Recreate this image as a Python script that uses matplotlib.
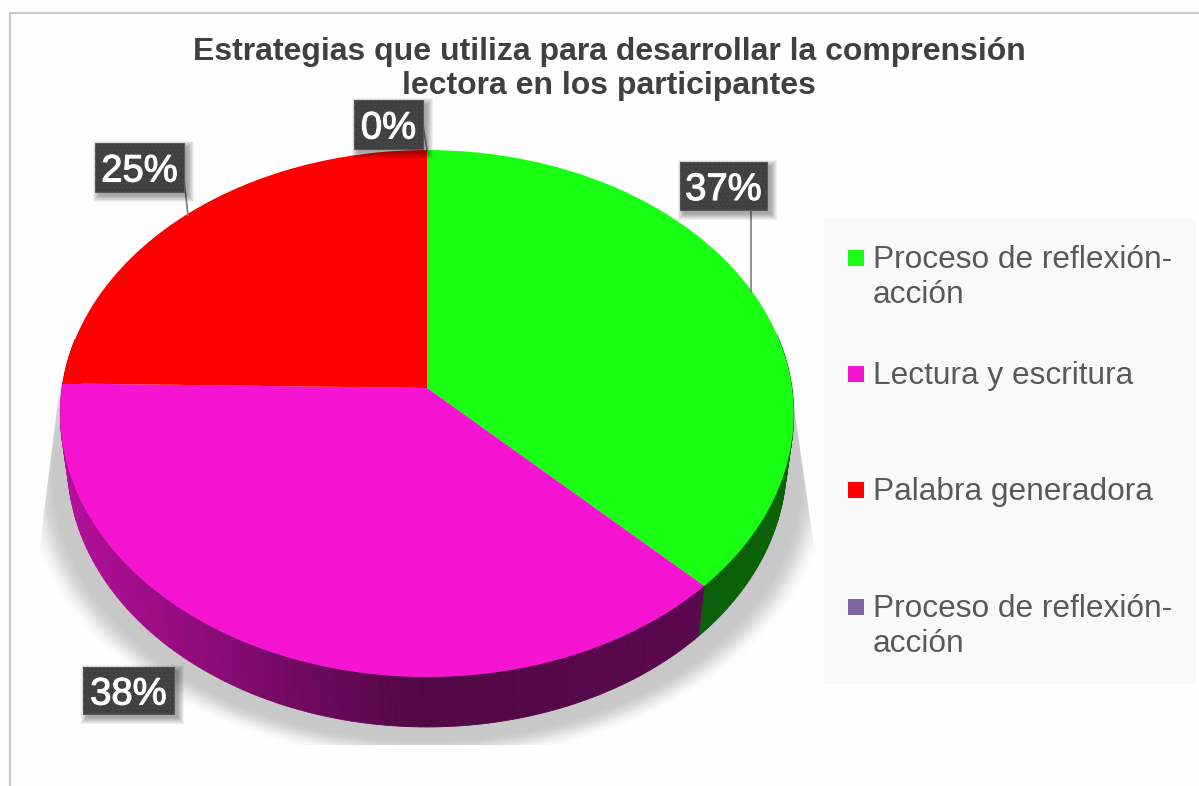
#!/usr/bin/env python3
"""3D-look pie of reading strategies, drawn with ax.pie and a perspective transform."""
import numpy as np
import matplotlib
matplotlib.use("Agg")
import matplotlib.pyplot as plt
from matplotlib.colors import to_rgb
from matplotlib.patches import Polygon, Rectangle
from matplotlib.transforms import Transform
import matplotlib.patheffects as pe

TITLE = "Estrategias que utiliza para desarrollar la comprensión\nlectora en los participantes"
CATEGORIES = ["Proceso de reflexión-\nacción", "Lectura y escritura",
              "Palabra generadora", "Proceso de reflexión-\nacción"]
VALUES = [37.49, 37.79, 24.72, 0.0]
COLORS = ["#19ff14", "#f514d2", "#ff0000", "#8064a2"]

plt.rcParams["font.family"] = ["Liberation Sans", "DejaVu Sans"]

W, H = 1199, 786
CX, CY = 427, 388       # pie apex in pixels
A, B, K = 365, 261, 0.0968
DEPTH, SHRINK = 50, 0.98
BG = "#fefefe"


class Tilt(Transform):
    """unit pie circle -> pixel coordinates, with a bit of perspective"""
    input_dims = output_dims = 2
    is_separable = False
    has_inverse = False

    def transform_non_affine(self, xy):
        xy = np.asarray(xy, dtype=float)
        v = -xy[:, 1]
        d = 1 - K * v
        return np.column_stack([CX + A * xy[:, 0] / d, CY + B * v / d])


fig = plt.figure(figsize=(W / 100, H / 100), dpi=100, facecolor=BG)
ax = fig.add_axes([0, 0, 1, 1])
wedges, _ = ax.pie(VALUES, colors=COLORS, startangle=90, counterclock=False)
ax.set_aspect("auto")
ax.set_xlim(0, W)
ax.set_ylim(H, 0)
ax.axis("off")
tilt = Tilt()
for w in wedges:
    w.set_transform(tilt + ax.transData)
    w.set_zorder(5)
    w.set_linewidth(0)
    w.set_clip_on(False)

# chart frame (only top and left show)
ax.plot([W, 10, 10], [13, 13, H], color="#c8c8c8", lw=1.5, zorder=1)

# soft shadow under the disc
yy, xx = np.mgrid[0:H, 0:W]
t = np.hypot((xx - 427) / 405, (yy - 477) / 285)
alpha = np.clip((1 - t) / 0.085, 0, 1)
alpha = alpha * alpha * (3 - 2 * alpha)
shadow = np.zeros((H, W, 4))
shadow[..., :3] = 200 / 255
shadow[..., 3] = alpha
im = ax.imshow(shadow, extent=(0, W, H, 0), aspect="auto", zorder=2, interpolation="bilinear")
im.set_clip_path(Polygon([(60, 385), (38, 560), (38, 745), (816, 745), (816, 560), (793, 400)],
                         transform=ax.transData))
ax.set_xlim(0, W)
ax.set_ylim(H, 0)


def shade(x):
    return np.interp(x, [60, 200, 300, 420, 800], [0.74, 0.58, 0.45, 0.33, 0.39])


# side wall, one thin quad per degree
for w, col in zip(wedges, COLORS):
    if w.theta2 - w.theta1 <= 0:
        continue
    th = np.radians(np.arange(w.theta1, w.theta2 + 0.5, 1.0))
    th[-1] = min(th[-1], np.radians(w.theta2))
    pts = tilt.transform(np.column_stack([np.cos(th), np.sin(th)]))
    low = np.column_stack([CX + SHRINK * (pts[:, 0] - CX), pts[:, 1] + DEPTH])
    base = np.array(to_rgb(col))
    for i in range(len(th) - 1):
        if np.sin(th[i]) > 0.2:
            continue
        c = base * shade(pts[i, 0])
        ax.fill([pts[i, 0], pts[i + 1, 0], low[i + 1, 0], low[i, 0]],
                [pts[i, 1], pts[i + 1, 1], low[i + 1, 1], low[i, 1]],
                fc=c, ec=c, lw=0.6, zorder=4)

# title
ax.text(609, 69, TITLE, ha="center", va="center", fontsize=23, fontweight="bold",
        color="#404040", linespacing=1.2, zorder=8)

# leader lines
for xs, ys in [([751, 751], [210, 292]), ([184, 188], [180, 215]), ([423, 427], [125, 150])]:
    ax.plot(xs, ys, color="#7f7f7f", lw=1.2, zorder=6)

# data labels: (x0, y0, x1, y1) boxes in wedge order, the 0% one sits on top
BOXES = [(680, 162, 767, 210), (83, 667, 174, 714), (95, 143, 184, 192), (354, 100, 423, 149)]
for v, (x0, y0, x1, y1) in zip(VALUES, BOXES):
    for grow in np.arange(6, -1, -1.0):
        ax.add_patch(Rectangle((x0 + 4 - grow, y0 + 4 - grow), x1 - x0 + 2 * grow, y1 - y0 + 2 * grow,
                               fc="#000000", ec="none", alpha=0.055, zorder=7))
    ax.add_patch(Rectangle((x0, y0), x1 - x0, y1 - y0, fc="#404040", ec="#5a5a5a", lw=0.8, zorder=7.1))
    ax.add_patch(Rectangle((x0, y0), x1 - x0, y1 - y0, fc="none", ec="#484848", lw=0, hatch="....",
                           zorder=7.2))
    ax.text((x0 + x1) / 2, (y0 + y1) / 2 + 4, f"{v:.0f}%", ha="center", va="center", fontsize=27.5,
            color="white", zorder=8,
            path_effects=[pe.withStroke(linewidth=0.8, foreground="white")])

# legend panel
ax.add_patch(Rectangle((824, 218), 372, 466, fc="#f9f9f9", ec="none", zorder=3))
LEG_Y = [258, 374, 490, 607]
for lab, col, y in zip(CATEGORIES, COLORS, LEG_Y):
    ax.add_patch(Rectangle((848, y - 8), 16, 16, fc=col, ec="none", zorder=6))
    ax.text(873, y - 13, lab, ha="left", va="top", fontsize=22.8, color="#595959",
            linespacing=1.2, zorder=8)

fig.savefig("out.png", dpi=100, facecolor=BG)
